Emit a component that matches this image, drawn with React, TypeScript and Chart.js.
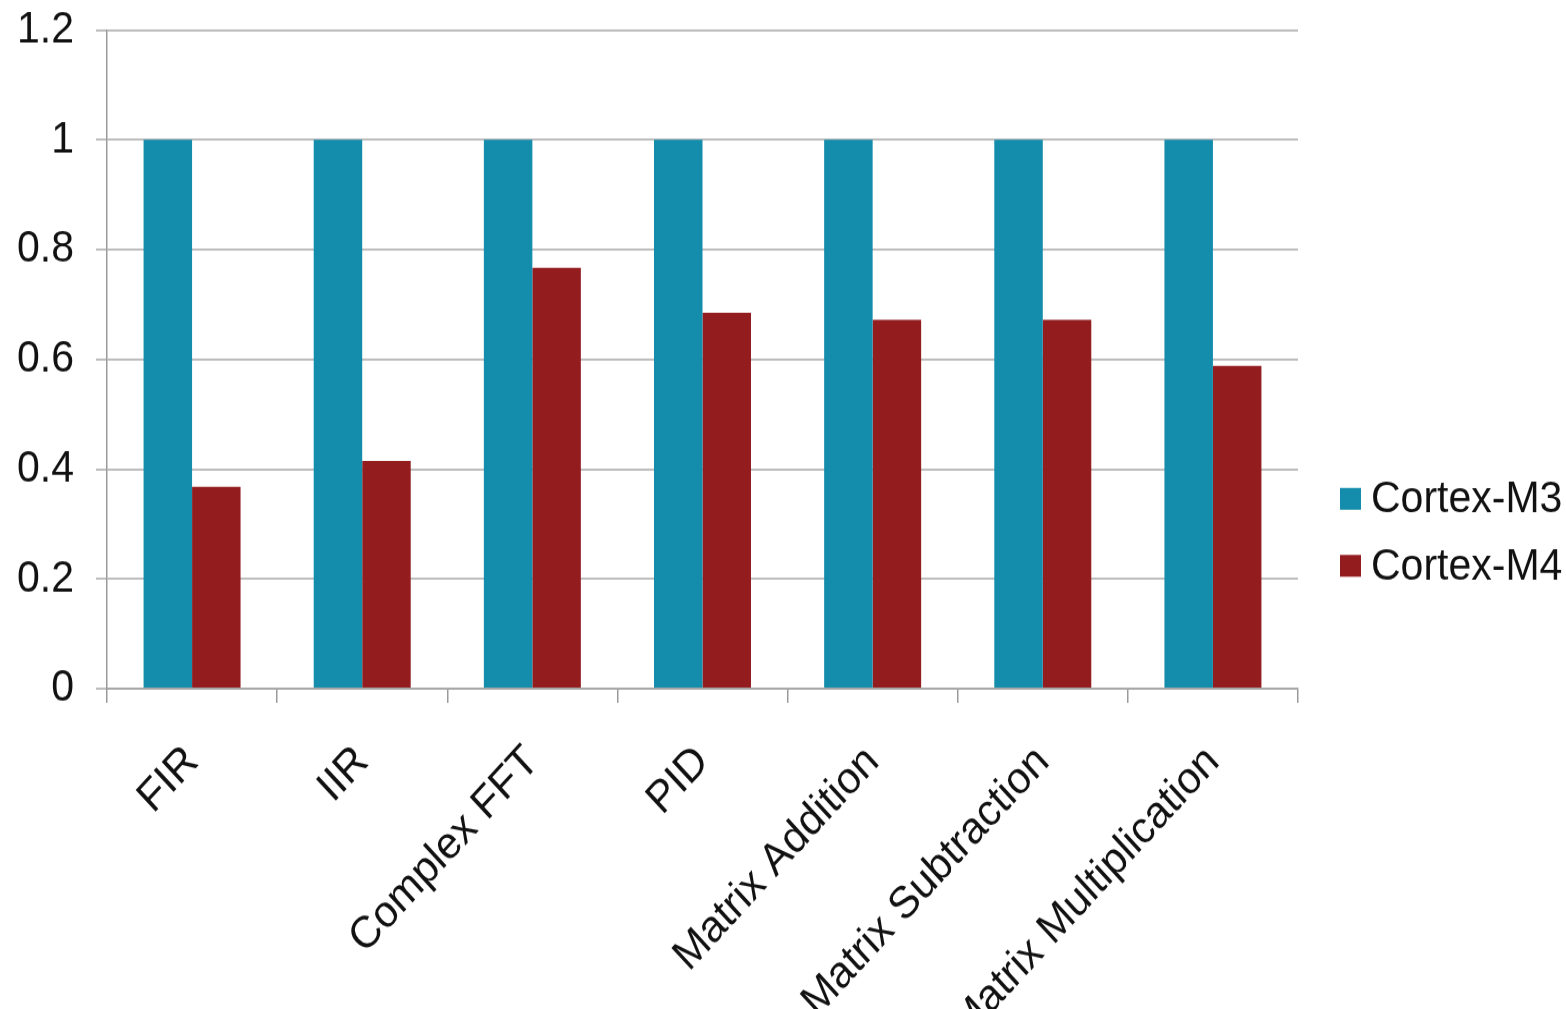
import React, { useEffect, useRef } from "react";
import { Chart, registerables } from "chart.js";

Chart.register(...registerables);

const categories = [
  "FIR",
  "IIR",
  "Complex FFT",
  "PID",
  "Matrix Addition",
  "Matrix Subtraction",
  "Matrix Multiplication",
];
const seriesNames = ["Cortex-M3", "Cortex-M4"];
const cortexM3 = [1, 1, 1, 1, 1, 1, 1];
const cortexM4 = [0.368, 0.415, 0.767, 0.685, 0.672, 0.672, 0.588];
const yTicks = [0, 0.2, 0.4, 0.6, 0.8, 1, 1.2];
const yTickLabels = ["0", "0.2", "0.4", "0.6", "0.8", "1", "1.2"];

const W = 1566;
const H = 1009;
// the source picture is slightly taller than wide in its proportions
const S = 1.09;
const HI = Math.round(H / S);
const FONT = "'Liberation Sans', Arial, sans-serif";
const FS = 41;

const legendPlugin = {
  id: "sideLegend",
  afterDraw(chart: any) {
    const ctx = chart.ctx;
    const area = chart.chartArea;
    const ds = chart.data.datasets;
    ctx.save();
    ctx.font = `${FS}px ${FONT}`;
    ctx.textBaseline = "middle";
    ctx.textAlign = "left";
    const startY = 499 / S;
    const step = 67 / S;
    ds.forEach((d: any, i: number) => {
      const cy = startY + i * step;
      ctx.fillStyle = d.backgroundColor;
      ctx.fillRect(area.right + 42, cy - 10, 21, 20);
      ctx.fillStyle = "#111111";
      ctx.fillText(d.label, area.right + 73, cy + 1);
    });
    ctx.restore();
  },
};

export default function App() {
  const ref = useRef<HTMLCanvasElement | null>(null);
  useEffect(() => {
    if (!ref.current) return;
    const chart = new Chart(ref.current, {
      type: "bar",
      data: {
        labels: categories,
        datasets: [
          {
            label: seriesNames[0],
            data: cortexM3,
            backgroundColor: "#148cab",
            borderWidth: 0,
            categoryPercentage: 0.57,
            barPercentage: 1,
          },
          {
            label: seriesNames[1],
            data: cortexM4,
            backgroundColor: "#931c1f",
            borderWidth: 0,
            categoryPercentage: 0.57,
            barPercentage: 1,
          },
        ],
      },
      options: {
        responsive: false,
        animation: false,
        layout: { padding: { left: 0, top: 30 / S, right: 268, bottom: 0 } },
        plugins: {
          legend: { display: false },
          tooltip: { enabled: false },
        },
        scales: {
          x: {
            grid: {
              display: true,
              drawOnChartArea: false,
              drawTicks: true,
              tickLength: 13,
              offset: true,
              color: "#9a9a9a",
              lineWidth: 1.5,
            },
            border: { display: true, color: "#a8a8a8", width: 2 },
            ticks: {
              autoSkip: false,
              maxRotation: 45,
              minRotation: 45,
              padding: 30,
              color: "#111111",
              font: { family: FONT, size: FS },
            },
            afterFit(scale: any) {
              scale.height = HI - 689 / S;
              scale.paddingLeft = 0;
              scale.paddingRight = 0;
            },
          },
          y: {
            min: 0,
            max: 1.2,
            afterBuildTicks(scale: any) {
              scale.ticks = yTicks.map((v) => ({ value: v }));
            },
            grid: {
              display: true,
              drawOnChartArea: true,
              drawTicks: true,
              tickLength: 11,
              color: "#bdbdbd",
              lineWidth: 2,
            },
            border: { display: true, color: "#9a9a9a", width: 1.5 },
            ticks: {
              padding: 22,
              color: "#111111",
              font: { family: FONT, size: FS },
              callback: (_v: any, i: number) => yTickLabels[i],
            },
            afterFit(scale: any) {
              scale.width = 107;
              scale.paddingTop = 0;
              scale.paddingBottom = 0;
            },
          },
        },
      },
      plugins: [legendPlugin],
    });
    return () => chart.destroy();
  }, []);
  return (
    <div
      style={{
        position: "fixed",
        left: 0,
        top: 0,
        width: W,
        height: H,
        overflow: "hidden",
        background: "#ffffff",
      }}
    >
      <canvas
        ref={ref}
        width={W}
        height={HI}
        style={{ width: W, height: H, display: "block" }}
      />
    </div>
  );
}
